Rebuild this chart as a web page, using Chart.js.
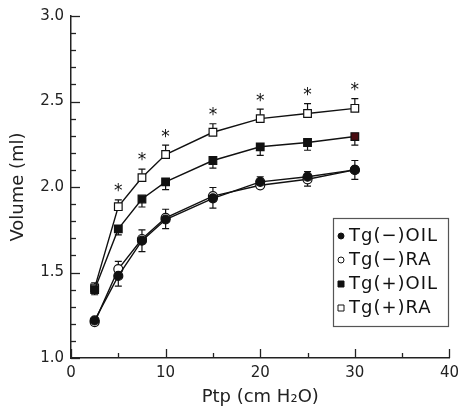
<!DOCTYPE html>
<html><head><meta charset="utf-8">
<script src="https://cdn.jsdelivr.net/npm/chart.js@4/dist/chart.umd.min.js"></script>
<style>html,body{margin:0;padding:0;background:#fff}#wrap{width:465px;height:416px;position:relative}</style>
</head><body><div id="wrap"><canvas id="c"></canvas></div>
<script>
const pressures = [2.5, 5, 7.5, 10, 15, 20, 25, 30];
const seriesLabels = ['Tg(\u2212)OIL', 'Tg(\u2212)RA', 'Tg(+)OIL', 'Tg(+)RA'];
const tgMinusOil = [1.22, 1.48, 1.686, 1.81, 1.934, 2.03, 2.06, 2.10];
const tgMinusRa  = [1.21, 1.52, 1.696, 1.82, 1.947, 2.01, 2.045, 2.10];
const tgPlusOil  = [1.40, 1.755, 1.93, 2.03, 2.155, 2.235, 2.26, 2.295];
const tgPlusRa   = [1.41, 1.885, 2.055, 2.19, 2.32, 2.40, 2.43, 2.46];
const errMinusOil = [0.02, 0.06, 0.064, 0.053, 0.058, 0.03, 0.055, 0.055];
const errMinusRa  = [0.02, 0.045, 0.053, 0.05, 0.05, 0.05, 0.045, 0.055];
const errPlusOil  = [0.03, 0.035, 0.047, 0.045, 0.045, 0.05, 0.045, 0.05];
const errPlusRa   = [0.03, 0.04, 0.05, 0.055, 0.05, 0.055, 0.058, 0.057];
const significant = [false, true, true, true, true, true, true, true];
const xTickValues = [0, 10, 20, 30, 40];
const yTickValues = [1.0, 1.5, 2.0, 2.5, 3.0];
const xTitle = 'Ptp (cm H\u2082O)';
const yTitle = 'Volume (ml)';

const FONT = "'DejaVu Sans', sans-serif";
const toPts = arr => pressures.map((x, i) => ({x, y: arr[i]}));

function mkSet(label, vals, errs, dir, style, fill, radius) {
  return {
    label, data: toPts(vals), errs, errDir: dir,
    borderColor: '#111', borderWidth: 1.4,
    pointStyle: style, pointRadius: radius, pointHoverRadius: radius,
    pointBackgroundColor: fill, pointBorderColor: '#111', pointBorderWidth: 1.2,
    tension: 0, fill: false
  };
}
const plusOilFill = pressures.map((p, i) => i === pressures.length - 1 ? '#4a0d12' : '#111');
const datasets = [
  mkSet(seriesLabels[0], tgMinusOil, errMinusOil, 1, 'circle', '#111', 4.5),
  mkSet(seriesLabels[1], tgMinusRa, errMinusRa, -1, 'circle', '#fff', 4.5),
  mkSet(seriesLabels[2], tgPlusOil, errPlusOil, 1, 'rect', plusOilFill, 5.4),
  mkSet(seriesLabels[3], tgPlusRa, errPlusRa, -1, 'rect', '#fff', 5.4)
];
// errDir: 1 => bar drawn downward, -1 => upward

const extras = {
  id: 'extras',
  beforeDatasetsDraw(chart) {
    const ctx = chart.ctx, xs = chart.scales.x, ys = chart.scales.y;
    ctx.save();
    ctx.strokeStyle = '#111'; ctx.lineWidth = 1.2;
    chart.data.datasets.forEach(ds => {
      ds.data.forEach((p, i) => {
        const e = ds.errs[i];
        const px = xs.getPixelForValue(p.x);
        const py = ys.getPixelForValue(p.y);
        const pe = ys.getPixelForValue(p.y - ds.errDir * e);
        ctx.beginPath();
        ctx.moveTo(px, py); ctx.lineTo(px, pe);
        ctx.moveTo(px - 3.5, pe); ctx.lineTo(px + 3.5, pe);
        ctx.stroke();
      });
    });
    ctx.restore();
  },
  afterDraw(chart) {
    const ctx = chart.ctx, xs = chart.scales.x, ys = chart.scales.y;
    const a = chart.chartArea;
    ctx.save();
    ctx.strokeStyle = '#222'; ctx.lineWidth = 1.3;
    // inward ticks
    for (let k = 0; k <= 20; k++) {
      const v = 1 + k * 0.1;
      const py = Math.round(ys.getPixelForValue(v)) + 0.5;
      const len = (k % 5 === 0) ? 9 : 5;
      ctx.beginPath(); ctx.moveTo(a.left, py); ctx.lineTo(a.left + len, py); ctx.stroke();
    }
    for (let k = 0; k <= 8; k++) {
      const v = k * 5;
      const px = Math.round(xs.getPixelForValue(v)) + 0.5;
      const len = (k % 2 === 0) ? 9 : 5;
      ctx.beginPath(); ctx.moveTo(px, a.bottom); ctx.lineTo(px, a.bottom - len); ctx.stroke();
    }
    // significance stars
    const sig = chart.data.datasets[3];
    ctx.fillStyle = '#111';
    ctx.font = '17px ' + FONT;
    ctx.textAlign = 'center'; ctx.textBaseline = 'middle';
    sig.data.forEach((p, i) => {
      if (!significant[i]) return;
      const px = xs.getPixelForValue(p.x);
      const top = ys.getPixelForValue(p.y + sig.errs[i]);
      ctx.fillText('*', px, top - 8);
    });
    // legend box
    const bx = 333, by = 218, bw = 115, bh = 108;
    ctx.strokeStyle = '#555'; ctx.lineWidth = 1.2;
    ctx.fillStyle = '#fff';
    ctx.fillRect(bx, by, bw, bh);
    ctx.strokeRect(bx + 0.5, by + 0.5, bw, bh);
    ctx.font = '18px ' + FONT;
    ctx.textAlign = 'left'; ctx.textBaseline = 'middle';
    try { ctx.letterSpacing = '1px'; } catch (e) {}
    chart.data.datasets.forEach((ds, i) => {
      const cy = by + 18 + i * 24;
      const mx = bx + 8;
      ctx.lineWidth = 1;
      ctx.strokeStyle = '#111';
      ctx.fillStyle = (i % 2 === 0) ? '#111' : '#fff';
      ctx.beginPath();
      if (ds.pointStyle === 'circle') ctx.arc(mx, cy, 3, 0, Math.PI * 2);
      else ctx.rect(mx - 3, cy - 3, 6, 6);
      ctx.fill(); ctx.stroke();
      ctx.fillStyle = '#111';
      ctx.fillText(ds.label, bx + 16, cy);
    });
    ctx.restore();
  }
};

new Chart(document.getElementById('c'), {
  type: 'line',
  data: { datasets },
  plugins: [extras],
  options: {
    responsive: true, maintainAspectRatio: false, animation: false,
    layout: { padding: { top: 16, right: 12, left: 0, bottom: 0 } },
    plugins: { legend: { display: false }, tooltip: { enabled: false } },
    scales: {
      x: {
        type: 'linear', min: 0, max: 40,
        afterBuildTicks: s => { s.ticks = xTickValues.map(v => ({value: v})); },
        afterFit: s => { s.height = 58; },
        grid: { display: false, drawTicks: false, tickLength: 0 },
        border: { display: true, color: '#222', width: 1.5 },
        ticks: { color: '#222', font: { family: FONT, size: 15 }, padding: 6 },
        title: { display: true, text: xTitle, color: '#222', font: { family: FONT, size: 18 }, padding: { top: 0, bottom: 8 } }
      },
      y: {
        type: 'linear', min: 1, max: 3,
        afterBuildTicks: s => { s.ticks = yTickValues.map(v => ({value: v})); },
        afterFit: s => { s.width = 71; },
        grid: { display: false, drawTicks: false, tickLength: 0 },
        border: { display: true, color: '#222', width: 1.5 },
        ticks: { color: '#222', font: { family: FONT, size: 15 }, padding: 7, callback: v => Number(v).toFixed(1) },
        title: { display: true, text: yTitle, color: '#222', font: { family: FONT, size: 18 }, padding: { top: 8, bottom: 0 } }
      }
    }
  }
});
</script></body></html>
